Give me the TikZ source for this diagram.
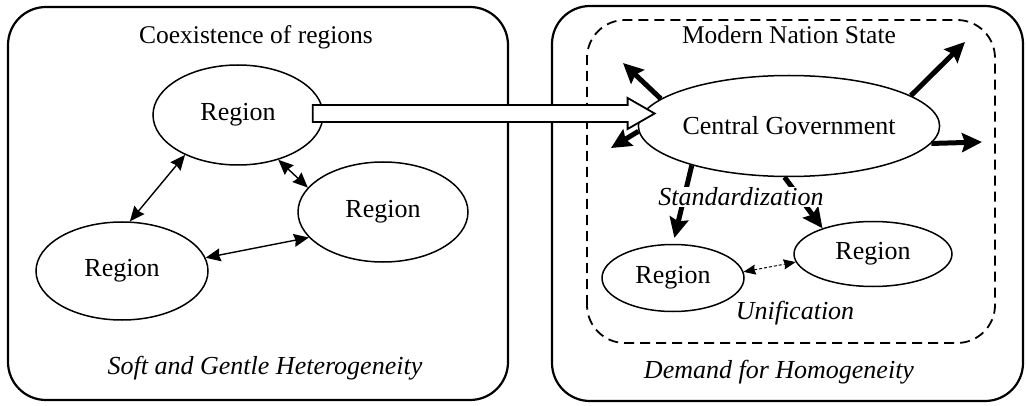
\documentclass[tikz,border=0pt]{standalone}
\usepackage{fontspec}
\setmainfont{Liberation Serif}
\usetikzlibrary{shapes.geometric,arrows.meta,calc}

\tikzset{
  panel/.style={draw, line width=2.2pt, rounded corners=38pt},
  statebox/.style={draw, line width=1.8pt, rounded corners=38pt, dash pattern=on 10pt off 6pt},
  region/.style={ellipse, draw, line width=1.5pt, fill=white, inner sep=0pt,
    font=\fontsize{26}{30}\selectfont},
  label/.style={font=\fontsize{25.5}{30}\selectfont, inner sep=1pt},
  itlabel/.style={font=\fontsize{26}{30}\selectfont\itshape, inner sep=1pt},
  link/.style={line width=1.4pt, {Stealth[length=15pt,width=13pt,inset=1.5pt]}-{Stealth[length=15pt,width=13pt,inset=1.5pt]}},
  push/.style={line width=5pt, -{Stealth[length=20pt,width=19pt,inset=3pt]}},
  tie/.style={line width=1pt, dash pattern=on 3pt off 2pt,
    {Stealth[length=12pt,width=10pt,inset=1pt]}-{Stealth[length=12pt,width=10pt,inset=1pt]}},
  hollow/.style={draw, line width=1.8pt, fill=white, line join=miter},
}

\begin{document}
\begin{tikzpicture}[x=1pt, y=1pt]
\useasboundingbox (0,0) rectangle (1026,405);

% the two panels
\draw[panel] (8,5) rectangle (508,398);
\draw[panel] (552,4) rectangle (1023,399);
\draw[statebox] (587,62) rectangle (995,385);

% left panel: coexisting regions
\node[label] (coex) at (256,368) {Coexistence of regions};
\node[region, minimum width=170pt, minimum height=100pt] (r1) at (238,290) {Region};
\node[region, minimum width=170pt, minimum height=100pt] (r2) at (383,193) {Region};
\node[region, minimum width=172pt, minimum height=98pt] (r3) at (122,134) {Region};
\node[itlabel] (soft) at (265,37) {Soft and Gentle Heterogeneity};

\draw[link] (r3.81) -- (r1.217);
\draw[link] (r1.312) -- (r2.162);
\draw[link] (r3.9) -- (r2.199);

% right panel: the nation state
\node[label] (mns) at (789,370) {Modern Nation State};
\node[region, minimum width=288pt, minimum height=101pt] (cg) at (789,279) {Central Government};
\node[region, minimum width=142pt, minimum height=67pt] (r4) at (673,127) {Region};
\node[region, minimum width=158pt, minimum height=65pt] (r5) at (873,151) {Region};
\node[itlabel] (demand) at (779,33) {Demand for Homogeneity};

% outward reach of the central government
\coordinate (ul) at (623,342);
\coordinate (ur) at (965,363);
\coordinate (ld) at (611,257);
\coordinate (rt) at (982,263);
\draw[push] (cg.168) -- (ul);
\draw[push] (cg.14) -- (ur);
\draw[push] (cg.182) -- (ld);
\draw[push] (cg.353) -- (rt);
\draw[push, shorten >=6pt] (cg.202) -- (r4.north);
\draw[push] (cg.265) -- (r5.153);

\node[itlabel, fill=white] (std) at (741,208) {Standardization};

\draw[tie] (r4.5) -- (r5.186);
\node[itlabel] (unif) at (795,92) {Unification};

% transition from coexistence to the nation state
\coordinate (hs) at ($(r1.east)+(-11,1.5)$);
\coordinate (ht) at ($(cg.west)+(17,12.5)$);
\draw[hollow] ($(hs)+(0,8.5)$) -- ($(ht)+(-27,8.5)$) -- ($(ht)+(-27,15.5)$) -- (ht)
  -- ($(ht)+(-27,-15.5)$) -- ($(ht)+(-27,-8.5)$) -- ($(hs)+(0,-8.5)$) -- cycle;
\end{tikzpicture}
\end{document}
